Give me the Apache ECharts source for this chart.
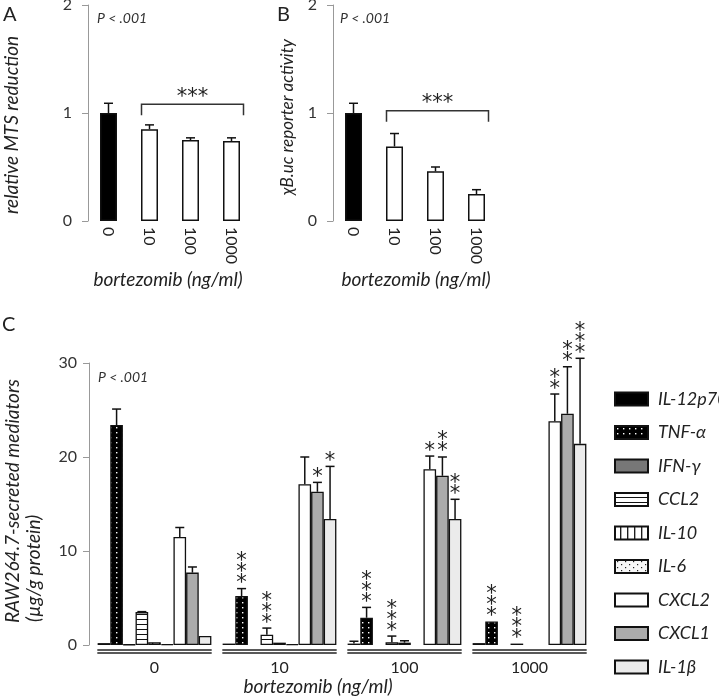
<!DOCTYPE html>
<html><head><meta charset="utf-8">
<script src="https://cdn.jsdelivr.net/npm/echarts@6/dist/echarts.min.js"></script>
<style>html,body{margin:0;padding:0;background:#fff}#c{width:719px;height:700px}</style>
</head><body><div id="c"></div>
<script>
// ---------- data ----------
const dosesAB = ['0', '10', '100', '1000'];
const mtsMean = [1.00, 0.85, 0.75, 0.74];
const mtsErr  = [0.09, 0.04, 0.02, 0.03];
const lucMean = [1.00, 0.69, 0.46, 0.25];
const lucErr  = [0.09, 0.12, 0.04, 0.04];

const dosesC = ['0', '10', '100', '1000'];
const mediators = ['IL-12p70', 'TNF-α', 'IFN-γ', 'CCL2', 'IL-10', 'IL-6', 'CXCL2', 'CXCL1', 'IL-1β'];
const il12Mean  = [0.2, 0.15, 0.15, 0.2];   const il12Err  = [0, 0, 0.25, 0];
const tnfMean   = [23.4, 5.2, 2.9, 2.5];    const tnfErr   = [1.7, 0.8, 1.1, 0];
const ifnMean   = [0.05, null, null, null]; const ifnErr   = [0, 0, 0, 0];
const ccl2Mean  = [3.5, 1.1, 0.3, 0.15];    const ccl2Err  = [0.05, 0.7, 0.65, 0];
const il10Mean  = [0.3, 0.25, 0.25, null];  const il10Err  = [0, 0, 0.2, 0];
const il6Mean   = [0.1, 0.1, null, null];   const il6Err   = [0, 0, 0, 0];
const cxcl2Mean = [11.5, 17.1, 18.7, 23.8]; const cxcl2Err = [1.0, 2.9, 1.4, 2.9];
const cxcl1Mean = [7.7, 16.3, 18.0, 24.6];  const cxcl1Err = [0.6, 1.0, 2.0, 5.0];
const il1bMean  = [0.95, 13.4, 13.4, 21.4]; const il1bErr  = [0, 5.6, 2.1, 9.1];
const tnfSig   = ['', '***', '***', '***'];
const ccl2Sig  = ['', '***', '***', '***'];
const cxcl2Sig = ['', '', '*', '**'];
const cxcl1Sig = ['', '*', '**', '**'];
const il1bSig  = ['', '*', '**', '***'];
const noSig    = ['', '', '', ''];
const ticksAB = [0, 1, 2];
const ticksC = [0, 10, 20, 30];

const cMeans = [il12Mean, tnfMean, ifnMean, ccl2Mean, il10Mean, il6Mean, cxcl2Mean, cxcl1Mean, il1bMean];
const cErrs  = [il12Err, tnfErr, ifnErr, ccl2Err, il10Err, il6Err, cxcl2Err, cxcl1Err, il1bErr];
const cSigs  = [noSig, tnfSig, noSig, ccl2Sig, noSig, noSig, cxcl2Sig, cxcl1Sig, il1bSig];

// ---------- patterns ----------
function pat(w, h, bg, draw) {
  const c = document.createElement('canvas'); c.width = w; c.height = h;
  const g = c.getContext('2d'); g.fillStyle = bg; g.fillRect(0, 0, w, h); draw && draw(g);
  return { image: c, repeat: 'repeat' };
}
const fills = [
  '#000',
  pat(6, 5, '#000', g => { g.fillStyle = '#fff'; g.fillRect(2, 2, 1.4, 1.4); }),
  '#777',
  pat(6, 5, '#fff', g => { g.fillStyle = '#111'; g.fillRect(0, 4, 6, 1.1); }),
  pat(7, 6, '#fff', g => { g.fillStyle = '#111'; g.fillRect(5, 0, 1.3, 6); }),
  pat(8, 6, '#f7f7f7', g => { g.fillStyle = '#222'; g.fillRect(2, 1, 1.2, 1.2); g.fillRect(6, 4, 1.2, 1.2); }),
  '#fff',
  '#ababab',
  '#ebebeb'
];

const FONT = 'Lato';
const TXT = '#222';

// ---------- helpers ----------
function starTexts(x, yBase, s, fs) {
  const out = [];
  for (let k = 0; k < s.length; k++) {
    out.push({ type: 'text', style: { text: '*', x: x, y: yBase - k * 11 + fs * 0.24,
      fontSize: fs, fontFamily: 'DejaVu Sans', fill: TXT, align: 'center', verticalAlign: 'middle',
      textAlign: 'center', textVerticalAlign: 'middle' } });
  }
  return out;
}
function errLine(x, yb, yt, cap) {
  return [
    { type: 'line', shape: { x1: x, y1: yb, x2: x, y2: yt }, style: { stroke: '#111', lineWidth: 1.5 } },
    { type: 'line', shape: { x1: x - cap, y1: yt, x2: x + cap, y2: yt }, style: { stroke: '#111', lineWidth: 1.5 } }
  ];
}
function abErrSeries(gi, mean, err) {
  return {
    type: 'custom', xAxisIndex: gi, yAxisIndex: gi, z: 5, silent: true,
    data: mean.map((m, i) => [i, m + err[i], m]), encode: { x: 0, y: 1 },
    renderItem(params, api) {
      const i = api.value(0);
      const t = api.coord([i, api.value(1)]), b = api.coord([i, api.value(2)]);
      return { type: 'group', children: errLine(t[0], b[1], t[1], 4.5) };
    }
  };
}
function bracketSeries(gi, from, to, level, foot, label) {
  return {
    type: 'custom', xAxisIndex: gi, yAxisIndex: gi, z: 5, silent: true,
    data: [[from, level, foot, to]], encode: { x: 0, y: 1 },
    renderItem(params, api) {
      const a = api.coord([api.value(0), api.value(1)]);
      const c = api.coord([api.value(3), api.value(1)]);
      const f = api.coord([api.value(0), api.value(2)]);
      const x1 = a[0] - 8, x2 = c[0] + 12;
      return { type: 'group', children: [
        { type: 'polyline', shape: { points: [[x1, f[1]], [x1, a[1]], [x2, a[1]], [x2, f[1]]] },
          style: { stroke: '#333', lineWidth: 1.5, fill: null } },
        { type: 'text', style: { text: label, x: (x1 + x2) / 2, y: a[1] - 12 + 5, fontSize: 21, fontFamily: 'DejaVu Sans',
          fill: TXT, align: 'center', verticalAlign: 'middle', textAlign: 'center', textVerticalAlign: 'middle' } }
      ] };
    }
  };
}
function abBars(gi, mean) {
  return {
    type: 'bar', xAxisIndex: gi, yAxisIndex: gi, barWidth: 17, silent: true,
    data: mean.map((v, i) => ({ value: v, itemStyle: { color: i === 0 ? '#000' : '#fff' } })),
    itemStyle: { borderColor: '#111', borderWidth: 1.5 }
  };
}
function yAxisCommon(gi, max, interval, margin) {
  return {
    type: 'value', gridIndex: gi, min: 0, max: max, interval: interval,
    splitLine: { show: false },
    axisLine: { show: true, lineStyle: { color: '#999', width: 1 } },
    axisTick: { show: true, length: 6, lineStyle: { color: '#999' } },
    axisLabel: { fontFamily: FONT, fontSize: 16, color: '#333', margin: margin }
  };
}

const series = [
  abBars(0, mtsMean), abErrSeries(0, mtsMean, mtsErr), bracketSeries(0, 1, 3, 1.08, 0.98, '***'),
  abBars(1, lucMean), abErrSeries(1, lucMean, lucErr), bracketSeries(1, 1, 3, 1.02, 0.92, '***')
];
mediators.forEach((name, k) => {
  series.push({
    type: 'bar', name: name, xAxisIndex: 2, yAxisIndex: 2, data: cMeans[k],
    barGap: '0%', barCategoryGap: '9%', silent: true,
    itemStyle: { color: fills[k], borderColor: '#111', borderWidth: 1.3 }
  });
});
// error bars + stars for panel C
const cErrData = [];
mediators.forEach((name, k) => {
  cMeans[k].forEach((m, i) => {
    if (m === null) return;
    cErrData.push([i, m + cErrs[k][i], m, k, cErrs[k][i]]);
  });
});
series.push({
  type: 'custom', xAxisIndex: 2, yAxisIndex: 2, z: 6, silent: true,
  data: cErrData, encode: { x: 0, y: 1 },
  renderItem(params, api) {
    const i = api.value(0), k = api.value(3), e = api.value(4);
    const cw = api.size([1, 0])[0];
    const bw = cw * 0.91 / 9;
    const base = api.coord([i, api.value(2)]);
    const top = api.coord([i, api.value(1)]);
    const x = base[0] + (k - 4) * bw;
    let children = [];
    if (e > 0) children = children.concat(errLine(x, base[1], top[1], 4.5));
    const s = cSigs[k][i];
    if (s) children = children.concat(starTexts(x, top[1] - 10, s, 21));
    return { type: 'group', children: children };
  }
});
// double baseline under each dose group
series.push({
  type: 'custom', xAxisIndex: 2, yAxisIndex: 2, z: 4, silent: true,
  data: dosesC.map((d, i) => [i, 0]), encode: { x: 0, y: 1 },
  renderItem(params, api) {
    const p = api.coord([api.value(0), 0]);
    const w = api.size([1, 0])[0] * 0.915;
    const mk = dy => ({ type: 'line', shape: { x1: p[0] - w / 2, y1: p[1] + dy, x2: p[0] + w / 2, y2: p[1] + dy },
      style: { stroke: '#222', lineWidth: 1.3 } });
    return { type: 'group', children: [mk(5), mk(8)] };
  }
});

function gtext(x, y, text, opt) {
  opt = opt || {};
  return {
    type: 'text', x: x, y: y, rotation: opt.rot || 0, silent: true,
    style: { text: text, fill: opt.color || TXT,
      font: (opt.italic ? 'italic ' : '') + (opt.size || 19) + 'px ' + FONT,
      align: opt.align || 'center', verticalAlign: 'middle',
      textAlign: opt.align || 'center', textVerticalAlign: 'middle' }
  };
}

const option = {
  animation: false,
  backgroundColor: '#fff',
  grid: [
    { left: 88, top: 5, width: 164, height: 216, outerBoundsMode: 'none' },
    { left: 333, top: 5, width: 164, height: 216, outerBoundsMode: 'none' },
    { left: 92, top: 363, width: 500, height: 282, outerBoundsMode: 'none' }
  ],
  xAxis: [0, 1].map(gi => ({
    type: 'category', gridIndex: gi, data: dosesAB,
    axisLine: { show: false }, axisTick: { show: false },
    axisLabel: { rotate: -90, margin: 6, fontFamily: FONT, fontSize: 16, color: TXT }
  })).concat([{
    type: 'category', gridIndex: 2, data: dosesC,
    axisLine: { show: false }, axisTick: { show: false },
    axisLabel: { margin: 15, fontFamily: FONT, fontSize: 16, color: TXT }
  }]),
  yAxis: [
    yAxisCommon(0, ticksAB[ticksAB.length - 1], 1, 16),
    yAxisCommon(1, ticksAB[ticksAB.length - 1], 1, 16),
    Object.assign(yAxisCommon(2, ticksC[ticksC.length - 1], 10, 12), { offset: 3 })
  ],
  legend: {
    data: mediators, orient: 'vertical', left: 614, top: 390, padding: 0,
    itemWidth: 33, itemHeight: 13, itemGap: 15.5, icon: 'rect', selectedMode: false,
    textStyle: { fontFamily: FONT, fontStyle: 'italic', fontSize: 18, lineHeight: 13, color: TXT,
      padding: [0, 0, 0, 5], overflow: 'none', width: 120 }
  },
  graphic: [
    gtext(3, 15, 'A', { size: 20, align: 'left' }),
    gtext(277, 15, 'B', { size: 20, align: 'left' }),
    gtext(2, 325, 'C', { size: 20, align: 'left' }),
    gtext(97, 18, 'P < .001', { size: 14, italic: true, align: 'left', color: '#333' }),
    gtext(340, 18, 'P < .001', { size: 14, italic: true, align: 'left', color: '#333' }),
    gtext(98, 377, 'P < .001', { size: 14, italic: true, align: 'left', color: '#333' }),
    gtext(168, 280, 'bortezomib (ng/ml)', { italic: true }),
    gtext(416, 280, 'bortezomib (ng/ml)', { italic: true }),
    gtext(318, 687, 'bortezomib (ng/ml)', { italic: true }),
    gtext(12, 125, 'relative MTS reduction', { italic: true, rot: Math.PI / 2 }),
    gtext(288, 117, 'χB.uc reporter activity', { italic: true, rot: Math.PI / 2, size: 17 }),
    gtext(13, 623, 'RAW264.7-secreted mediators', { italic: true, rot: Math.PI / 2, align: 'left' }),
    gtext(34, 622, '(µg/g protein)', { italic: true, rot: Math.PI / 2, align: 'left' })
  ],
  series: series
};
const chart = echarts.init(document.getElementById('c'), null, { renderer: 'canvas' });
chart.setOption(option);
</script></body></html>
